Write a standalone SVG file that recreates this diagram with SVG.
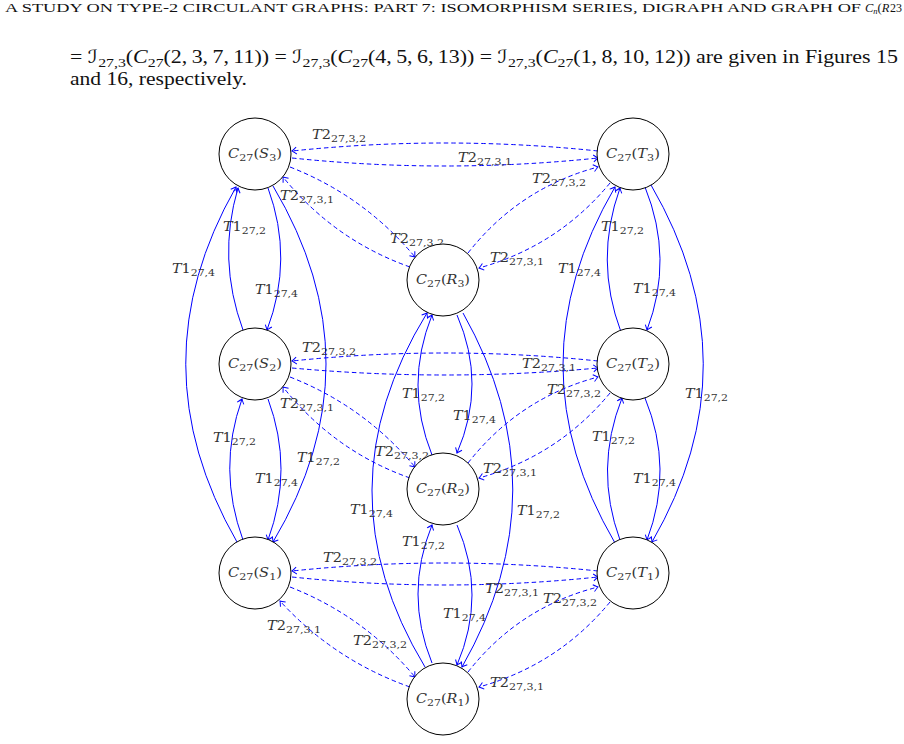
<svg xmlns="http://www.w3.org/2000/svg" width="904" height="744" viewBox="0 0 904 744">
<style>
.e{fill:none;stroke:#0000ff;stroke-width:1;marker-end:url(#ah)}
.d{stroke-dasharray:4.5 3}
.n circle{fill:#fff;stroke:#000;stroke-width:1}
.nl{font-family:"DejaVu Serif","Liberation Serif",serif;font-size:12.5px;fill:#333;text-anchor:middle}
.lb{font-family:"DejaVu Serif","Liberation Serif",serif;font-size:12.5px;fill:#333}
.tx{font-family:"Liberation Serif","DejaVu Serif","DejaVu Sans",serif;fill:#111}
.s{font-size:9.5px}
.i{font-style:italic}
</style>
<defs>
<marker id="ah" viewBox="-6 -5 8 10" refX="0" refY="0" markerWidth="8" markerHeight="10" markerUnits="userSpaceOnUse" orient="auto">
<path d="M-4.5,-3.5 Q-1,-0.6 0,0 Q-1,0.6 -4.5,3.5" fill="none" stroke="#0000ff" stroke-width="1" stroke-dasharray="none"/>
</marker>
</defs>
<rect width="904" height="744" fill="#fff"/>

<g id="text">
<text class="tx" x="5" y="12" font-size="12" textLength="856" lengthAdjust="spacingAndGlyphs">A STUDY ON TYPE-2 CIRCULANT GRAPHS: PART 7: ISOMORPHISM SERIES, DIGRAPH AND GRAPH OF</text>
<text class="tx" x="865" y="12" font-size="12.5"><tspan class="i">C</tspan><tspan font-size="8.5" dy="2" class="i">n</tspan><tspan dy="-2">(</tspan><tspan class="i">R</tspan></text>
<text class="tx" x="890" y="12" font-size="12">23</text>
<text class="tx" x="70" y="63" font-size="18" textLength="828" lengthAdjust="spacingAndGlyphs">= <tspan class="i">ℐ</tspan><tspan font-size="13" dy="4">27,3</tspan><tspan dy="-4">(</tspan><tspan class="i">C</tspan><tspan font-size="13" dy="4">27</tspan><tspan dy="-4">(2,&#8201;3,&#8201;7,&#8201;11)) = </tspan><tspan class="i">ℐ</tspan><tspan font-size="13" dy="4">27,3</tspan><tspan dy="-4">(</tspan><tspan class="i">C</tspan><tspan font-size="13" dy="4">27</tspan><tspan dy="-4">(4,&#8201;5,&#8201;6,&#8201;13)) = </tspan><tspan class="i">ℐ</tspan><tspan font-size="13" dy="4">27,3</tspan><tspan dy="-4">(</tspan><tspan class="i">C</tspan><tspan font-size="13" dy="4">27</tspan><tspan dy="-4">(1,&#8201;8,&#8201;10,&#8201;12)) are given in Figures 15</tspan></text>
<text class="tx" x="70" y="85" font-size="18" textLength="177" lengthAdjust="spacingAndGlyphs">and 16, respectively.</text>
</g>

<g id="connectors">
<path class="e d" d="M598,151 Q445,135 292,151"/>
<path class="e d" d="M292,158 Q445,174 598,158"/>
<path class="e d" d="M598,361 Q445,345 292,361"/>
<path class="e d" d="M292,368 Q445,382 598,368"/>
<path class="e d" d="M598,571 Q445,555 292,571"/>
<path class="e d" d="M292,577 Q445,593 598,577"/>
<path class="e d" d="M290,167 Q364,196 415,257"/>
<path class="e d" d="M410,267 Q334,240 283,177"/>
<path class="e d" d="M290,377 Q364,406 415,467"/>
<path class="e d" d="M410,478 Q334,451 283,387"/>
<path class="e d" d="M290,587 Q364,616 415,677"/>
<path class="e d" d="M410,687 Q334,660 280,601"/>
<path class="e d" d="M468,253 Q519,188 598,167"/>
<path class="e d" d="M610,183 Q558,246 479,268"/>
<path class="e d" d="M468,463 Q519,398 598,377"/>
<path class="e d" d="M610,393 Q558,456 479,478"/>
<path class="e d" d="M468,672 Q519,607 598,587"/>
<path class="e d" d="M610,602 Q558,665 479,687"/>
<path class="e" d="M243,330 Q217,259 238,188"/>
<path class="e" d="M268,188 Q294,259 267,330"/>
<path class="e" d="M243,540 Q217,469 242,399"/>
<path class="e" d="M268,399 Q294,469 268,540"/>
<path class="e" d="M237,542 Q135,364 236,187"/>
<path class="e" d="M273,186 Q379,364 273,542"/>
<path class="e" d="M615,543 Q511,365 615,187"/>
<path class="e" d="M621,332 Q594,260 620,188"/>
<path class="e" d="M645,187 Q674,259 647,330"/>
<path class="e" d="M651,185 Q755,364 652,542"/>
<path class="e" d="M620,540 Q594,469 622,398"/>
<path class="e" d="M645,398 Q674,469 647,540"/>
<path class="e" d="M425,667 Q318,490 427,313"/>
<path class="e" d="M432,455 Q404,385 432,315"/>
<path class="e" d="M457,315 Q487,384 457,453"/>
<path class="e" d="M463,313 Q563,490 462,667"/>
<path class="e" d="M432,663 Q404,594 432,525"/>
<path class="e" d="M457,525 Q487,595 457,665"/>
</g>

<g id="edge-labels">
<text class="lb" x="312" y="139" textLength="54" lengthAdjust="spacingAndGlyphs"><tspan class="i">T</tspan>2<tspan class="s" dy="3">27,3,2</tspan></text>
<text class="lb" x="458" y="162" textLength="54" lengthAdjust="spacingAndGlyphs"><tspan class="i">T</tspan>2<tspan class="s" dy="3">27,3,1</tspan></text>
<text class="lb" x="280" y="200" textLength="54" lengthAdjust="spacingAndGlyphs"><tspan class="i">T</tspan>2<tspan class="s" dy="3">27,3,1</tspan></text>
<text class="lb" x="390" y="243" textLength="54" lengthAdjust="spacingAndGlyphs"><tspan class="i">T</tspan>2<tspan class="s" dy="3">27,3,2</tspan></text>
<text class="lb" x="532" y="183" textLength="54" lengthAdjust="spacingAndGlyphs"><tspan class="i">T</tspan>2<tspan class="s" dy="3">27,3,2</tspan></text>
<text class="lb" x="490" y="262" textLength="54" lengthAdjust="spacingAndGlyphs"><tspan class="i">T</tspan>2<tspan class="s" dy="3">27,3,1</tspan></text>
<text class="lb" x="302" y="352" textLength="54" lengthAdjust="spacingAndGlyphs"><tspan class="i">T</tspan>2<tspan class="s" dy="3">27,3,2</tspan></text>
<text class="lb" x="522" y="368" textLength="54" lengthAdjust="spacingAndGlyphs"><tspan class="i">T</tspan>2<tspan class="s" dy="3">27,3,1</tspan></text>
<text class="lb" x="280" y="408" textLength="54" lengthAdjust="spacingAndGlyphs"><tspan class="i">T</tspan>2<tspan class="s" dy="3">27,3,1</tspan></text>
<text class="lb" x="375" y="456" textLength="54" lengthAdjust="spacingAndGlyphs"><tspan class="i">T</tspan>2<tspan class="s" dy="3">27,3,2</tspan></text>
<text class="lb" x="547" y="394" textLength="54" lengthAdjust="spacingAndGlyphs"><tspan class="i">T</tspan>2<tspan class="s" dy="3">27,3,2</tspan></text>
<text class="lb" x="483" y="473" textLength="54" lengthAdjust="spacingAndGlyphs"><tspan class="i">T</tspan>2<tspan class="s" dy="3">27,3,1</tspan></text>
<text class="lb" x="323" y="562" textLength="54" lengthAdjust="spacingAndGlyphs"><tspan class="i">T</tspan>2<tspan class="s" dy="3">27,3,2</tspan></text>
<text class="lb" x="485" y="593" textLength="54" lengthAdjust="spacingAndGlyphs"><tspan class="i">T</tspan>2<tspan class="s" dy="3">27,3,1</tspan></text>
<text class="lb" x="267" y="630" textLength="54" lengthAdjust="spacingAndGlyphs"><tspan class="i">T</tspan>2<tspan class="s" dy="3">27,3,1</tspan></text>
<text class="lb" x="353" y="645" textLength="54" lengthAdjust="spacingAndGlyphs"><tspan class="i">T</tspan>2<tspan class="s" dy="3">27,3,2</tspan></text>
<text class="lb" x="543" y="603" textLength="54" lengthAdjust="spacingAndGlyphs"><tspan class="i">T</tspan>2<tspan class="s" dy="3">27,3,2</tspan></text>
<text class="lb" x="490" y="687" textLength="54" lengthAdjust="spacingAndGlyphs"><tspan class="i">T</tspan>2<tspan class="s" dy="3">27,3,1</tspan></text>

<text class="lb" x="223" y="231" textLength="43" lengthAdjust="spacingAndGlyphs"><tspan class="i">T</tspan>1<tspan class="s" dy="3">27,2</tspan></text>
<text class="lb" x="255" y="294" textLength="43" lengthAdjust="spacingAndGlyphs"><tspan class="i">T</tspan>1<tspan class="s" dy="3">27,4</tspan></text>
<text class="lb" x="172" y="273" textLength="43" lengthAdjust="spacingAndGlyphs"><tspan class="i">T</tspan>1<tspan class="s" dy="3">27,4</tspan></text>
<text class="lb" x="213" y="442" textLength="43" lengthAdjust="spacingAndGlyphs"><tspan class="i">T</tspan>1<tspan class="s" dy="3">27,2</tspan></text>
<text class="lb" x="255" y="483" textLength="43" lengthAdjust="spacingAndGlyphs"><tspan class="i">T</tspan>1<tspan class="s" dy="3">27,4</tspan></text>
<text class="lb" x="297" y="462" textLength="43" lengthAdjust="spacingAndGlyphs"><tspan class="i">T</tspan>1<tspan class="s" dy="3">27,2</tspan></text>
<text class="lb" x="558" y="273" textLength="43" lengthAdjust="spacingAndGlyphs"><tspan class="i">T</tspan>1<tspan class="s" dy="3">27,4</tspan></text>
<text class="lb" x="601" y="231" textLength="43" lengthAdjust="spacingAndGlyphs"><tspan class="i">T</tspan>1<tspan class="s" dy="3">27,2</tspan></text>
<text class="lb" x="633" y="293" textLength="43" lengthAdjust="spacingAndGlyphs"><tspan class="i">T</tspan>1<tspan class="s" dy="3">27,4</tspan></text>
<text class="lb" x="685" y="398" textLength="43" lengthAdjust="spacingAndGlyphs"><tspan class="i">T</tspan>1<tspan class="s" dy="3">27,2</tspan></text>
<text class="lb" x="592" y="441" textLength="43" lengthAdjust="spacingAndGlyphs"><tspan class="i">T</tspan>1<tspan class="s" dy="3">27,2</tspan></text>
<text class="lb" x="633" y="483" textLength="43" lengthAdjust="spacingAndGlyphs"><tspan class="i">T</tspan>1<tspan class="s" dy="3">27,4</tspan></text>
<text class="lb" x="350" y="514" textLength="43" lengthAdjust="spacingAndGlyphs"><tspan class="i">T</tspan>1<tspan class="s" dy="3">27,4</tspan></text>
<text class="lb" x="402" y="398" textLength="43" lengthAdjust="spacingAndGlyphs"><tspan class="i">T</tspan>1<tspan class="s" dy="3">27,2</tspan></text>
<text class="lb" x="453" y="420" textLength="43" lengthAdjust="spacingAndGlyphs"><tspan class="i">T</tspan>1<tspan class="s" dy="3">27,4</tspan></text>
<text class="lb" x="517" y="515" textLength="43" lengthAdjust="spacingAndGlyphs"><tspan class="i">T</tspan>1<tspan class="s" dy="3">27,2</tspan></text>
<text class="lb" x="402" y="546" textLength="43" lengthAdjust="spacingAndGlyphs"><tspan class="i">T</tspan>1<tspan class="s" dy="3">27,2</tspan></text>
<text class="lb" x="443" y="618" textLength="43" lengthAdjust="spacingAndGlyphs"><tspan class="i">T</tspan>1<tspan class="s" dy="3">27,4</tspan></text>
</g>

<g id="S3" class="n"><circle cx="255" cy="154" r="36"/><text class="nl" x="255" y="158" textLength="54" lengthAdjust="spacingAndGlyphs"><tspan class="i">C</tspan><tspan class="s" dy="3">27</tspan><tspan dy="-3">(</tspan><tspan class="i">S</tspan><tspan class="s" dy="3">3</tspan><tspan dy="-3">)</tspan></text></g>
<g id="S2" class="n"><circle cx="255" cy="364" r="36"/><text class="nl" x="255" y="368" textLength="54" lengthAdjust="spacingAndGlyphs"><tspan class="i">C</tspan><tspan class="s" dy="3">27</tspan><tspan dy="-3">(</tspan><tspan class="i">S</tspan><tspan class="s" dy="3">2</tspan><tspan dy="-3">)</tspan></text></g>
<g id="S1" class="n"><circle cx="255" cy="573" r="36"/><text class="nl" x="255" y="577" textLength="54" lengthAdjust="spacingAndGlyphs"><tspan class="i">C</tspan><tspan class="s" dy="3">27</tspan><tspan dy="-3">(</tspan><tspan class="i">S</tspan><tspan class="s" dy="3">1</tspan><tspan dy="-3">)</tspan></text></g>
<g id="T3" class="n"><circle cx="633" cy="154" r="36"/><text class="nl" x="633" y="158" textLength="54" lengthAdjust="spacingAndGlyphs"><tspan class="i">C</tspan><tspan class="s" dy="3">27</tspan><tspan dy="-3">(</tspan><tspan class="i">T</tspan><tspan class="s" dy="3">3</tspan><tspan dy="-3">)</tspan></text></g>
<g id="T2" class="n"><circle cx="633" cy="364" r="36"/><text class="nl" x="633" y="368" textLength="54" lengthAdjust="spacingAndGlyphs"><tspan class="i">C</tspan><tspan class="s" dy="3">27</tspan><tspan dy="-3">(</tspan><tspan class="i">T</tspan><tspan class="s" dy="3">2</tspan><tspan dy="-3">)</tspan></text></g>
<g id="T1" class="n"><circle cx="633" cy="573" r="36"/><text class="nl" x="633" y="577" textLength="54" lengthAdjust="spacingAndGlyphs"><tspan class="i">C</tspan><tspan class="s" dy="3">27</tspan><tspan dy="-3">(</tspan><tspan class="i">T</tspan><tspan class="s" dy="3">1</tspan><tspan dy="-3">)</tspan></text></g>
<g id="R3" class="n"><circle cx="443" cy="280" r="36"/><text class="nl" x="443" y="284" textLength="54" lengthAdjust="spacingAndGlyphs"><tspan class="i">C</tspan><tspan class="s" dy="3">27</tspan><tspan dy="-3">(</tspan><tspan class="i">R</tspan><tspan class="s" dy="3">3</tspan><tspan dy="-3">)</tspan></text></g>
<g id="R2" class="n"><circle cx="443" cy="489" r="36"/><text class="nl" x="443" y="493" textLength="54" lengthAdjust="spacingAndGlyphs"><tspan class="i">C</tspan><tspan class="s" dy="3">27</tspan><tspan dy="-3">(</tspan><tspan class="i">R</tspan><tspan class="s" dy="3">2</tspan><tspan dy="-3">)</tspan></text></g>
<g id="R1" class="n"><circle cx="443" cy="699" r="36"/><text class="nl" x="443" y="703" textLength="54" lengthAdjust="spacingAndGlyphs"><tspan class="i">C</tspan><tspan class="s" dy="3">27</tspan><tspan dy="-3">(</tspan><tspan class="i">R</tspan><tspan class="s" dy="3">1</tspan><tspan dy="-3">)</tspan></text></g>
</svg>
